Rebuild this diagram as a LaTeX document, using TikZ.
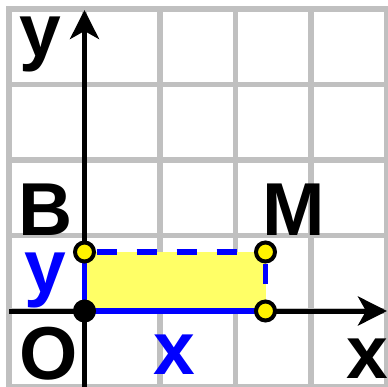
\documentclass[tikz,border=0pt]{standalone}
\usepackage{fontspec}
\setmainfont{Liberation Sans}
\usetikzlibrary{arrows.meta}
\definecolor{gridgray}{RGB}{192,192,192}
\definecolor{fillyellow}{RGB}{255,255,102}
\begin{document}
\begin{tikzpicture}[x=1pt,y=-1pt,
  gridline/.style={gridgray,line width=5.5pt},
  axisline/.style={line width=5pt,-{Stealth[length=29pt,width=29pt,inset=8pt]}},
  lbl/.style={font=\bfseries\fontsize{75}{75}\selectfont,inner sep=0pt},
  ptopen/.style={circle,draw=black,line width=4pt,fill=yellow,minimum size=19pt,inner sep=0pt},
  ptorigin/.style={circle,draw=black,line width=4pt,fill=black,minimum size=19pt,inner sep=0pt},
  solidside/.style={blue,line width=5.5pt},
  dashside/.style={blue,line width=5.5pt,dash pattern=on 20pt off 20pt},
]
\useasboundingbox (0,0) rectangle (387,387);
% grid
\foreach \k in {0,...,5}{
  \draw[gridline] (9+75.5*\k,6.25) -- (9+75.5*\k,387);
  \draw[gridline] (6.25,9+75.5*\k) -- (387,9+75.5*\k);
}
% corner coordinates
\coordinate (o) at (84.5,311);
\coordinate (b) at (84.5,252);
\coordinate (m) at (265.5,252);
\coordinate (a) at (265.5,311);
\coordinate (xstart) at (9,311);
\coordinate (xend) at (387,311);
\coordinate (ystart) at (84.5,387);
\coordinate (yend) at (84.5,10);
% filled rectangle
\fill[fillyellow] (o) rectangle (m);
% axes
\draw[axisline] (xstart) -- (xend);
\draw[axisline] (ystart) -- (yend);
% rectangle sides
\draw[solidside] (b) -- (o) -- (a);
\draw[dashside,dash phase=-12pt] (b) -- (m);
\draw[dashside,dash phase=-12pt] (m) -- (a);
% points
\node[ptopen] (B) at (b) {};
\node[ptopen] (M) at (m) {};
\node[ptopen] (A) at (a) {};
\node[ptorigin] (O) at (o) {};
% labels
\node[lbl] (ylab) at (40.5,44) {y};
\node[lbl] (Blab) at (45.5,210) {B};
\node[lbl] (Mlab) at (293.5,210) {M};
\node[lbl,blue] (yblue) at (45,280) {y};
\node[lbl] (Olab) at (49,353.5) {O};
\node[lbl,blue] (xblue) at (174,355) {x};
\node[lbl] (xlab) at (367.5,359) {x};
\end{tikzpicture}
\end{document}
